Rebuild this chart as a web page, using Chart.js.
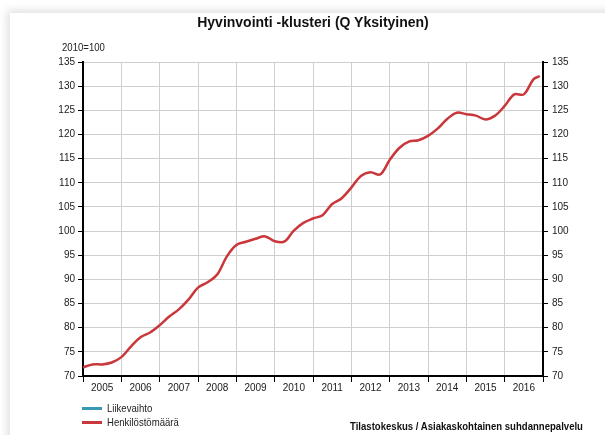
<!DOCTYPE html>
<html>
<head>
<meta charset="utf-8">
<script src="https://cdn.jsdelivr.net/npm/chart.js@4.4.1/dist/chart.umd.min.js"></script>
<style>
  html, body { margin: 0; padding: 0; background: #fff; }
  body { width: 605px; height: 435px; position: relative; overflow: hidden;
         font-family: "Liberation Sans", Arial, sans-serif; color: #222; }
  .card { position: absolute; left: 10px; top: 13px; width: 620px; height: 450px; background: #fff;
          box-shadow: -3px -3px 8px rgba(0,0,0,0.12); }
  canvas { position: absolute; left: 0; top: 0; }
  .narrow { transform: scaleX(0.87); transform-origin: 0 50%; white-space: nowrap; }
  .title { position: absolute; left: 0; width: 626px; top: 14px; text-align: center;
           font-weight: bold; font-size: 14px; color: #111; }
  .unit { position: absolute; left: 62px; top: 41px; font-size: 11px; }
  .legend { position: absolute; left: 82px; top: 401px; font-size: 11px; }
  .legend div { height: 14px; line-height: 14px; white-space: nowrap; }
  .legend span.swatch { display: inline-block; width: 20px; height: 3px; vertical-align: middle;
                        margin-right: 5px; position: relative; top: -1px; }
  .legend span.txt { display: inline-block; }
  .source { position: absolute; left: 350px; top: 420px; font-size: 11px; font-weight: bold; color: #111; }
</style>
</head>
<body>
<div class="card"></div>
<canvas id="chart" width="605" height="435"></canvas>
<div class="title">Hyvinvointi -klusteri (Q Yksityinen)</div>
<div class="unit narrow">2010=100</div>
<div class="legend" id="legend"></div>
<div class="source narrow">Tilastokeskus / Asiakaskohtainen suhdannepalvelu</div>
<script>
// periods (year-month) of the readings
const periods = [
  "2005-01", "2005-04", "2005-07", "2005-10",
  "2006-01", "2006-04", "2006-07", "2006-10",
  "2007-01", "2007-04", "2007-07", "2007-10",
  "2008-01", "2008-04", "2008-07", "2008-10",
  "2009-01", "2009-04", "2009-07", "2009-10",
  "2010-01", "2010-04", "2010-07", "2010-10",
  "2011-01", "2011-04", "2011-07", "2011-10",
  "2012-01", "2012-04", "2012-07", "2012-10",
  "2013-01", "2013-04", "2013-07", "2013-10",
  "2014-01", "2014-04", "2014-07", "2014-10",
  "2015-01", "2015-04", "2015-07", "2015-10",
  "2016-01", "2016-04", "2016-07", "2016-10", "2016-12"
];

// Henkilöstömäärä, trend index 2010=100
const henkilostomaara = [
  71.8, 72.4, 72.4, 72.8,
  73.9, 76.1, 78.0, 79.0,
  80.5, 82.3, 83.8, 85.8,
  88.3, 89.4, 91.0, 94.7,
  97.1, 97.8, 98.4, 98.9,
  97.9, 97.8, 100.1, 101.7,
  102.6, 103.3, 105.6, 106.8,
  109.0, 111.4, 112.2, 111.7,
  114.7, 117.2, 118.5, 118.8,
  119.7, 121.2, 123.2, 124.5,
  124.2, 123.9, 123.1, 123.9,
  125.9, 128.3, 128.3, 131.4, 132.1
];

// no values shown for Liikevaihto
const liikevaihto = [];

const years = ["2005", "2006", "2007", "2008", "2009", "2010", "2011", "2012", "2013", "2014", "2015", "2016"];
const yTicks = [70, 75, 80, 85, 90, 95, 100, 105, 110, 115, 120, 125, 130, 135];

const FONT = "'Liberation Sans', Arial, sans-serif";

function toYear(p) {
  const [y, m] = p.split("-").map(Number);
  return y + (m - 1) / 12;
}

const series = [
  { label: "Liikevaihto", color: "#3a98b4", values: liikevaihto },
  { label: "Henkilöstömäärä", color: "#c9373b", values: henkilostomaara },
];

const firstYear = Number(years[0]);
const lastYear = Number(years[years.length - 1]) + 1;

function yearTicks(scale) {
  const t = [];
  for (let y = firstYear; y <= lastYear; y++) {
    t.push({ value: y });
    if (y < lastYear) t.push({ value: y + 0.5 });
  }
  scale.ticks = t;
}

const isBoundary = (ctx) => ctx.tick && Number.isInteger(ctx.tick.value);

new Chart(document.getElementById("chart"), {
  type: "line",
  data: {
    datasets: series.map((s) => ({
      label: s.label,
      data: s.values.map((v, i) => ({ x: toYear(periods[i]), y: v })),
      borderColor: s.color,
      backgroundColor: s.color,
      borderWidth: 2.5,
      pointRadius: 0,
      tension: 0.35,
      fill: false,
    })),
  },
  options: {
    responsive: false,
    animation: false,
    layout: { padding: { top: 62, left: 0, right: 0, bottom: 0 } },
    plugins: {
      legend: { display: false },
      tooltip: { enabled: false },
    },
    scales: {
      x: {
        type: "linear",
        min: firstYear,
        max: lastYear,
        afterBuildTicks: yearTicks,
        afterFit: (s) => { s.height = 59; },
        border: { display: true, color: "#000", width: 2 },
        grid: {
          color: (ctx) => (isBoundary(ctx) ? "#cfcfcf" : "transparent"),
          tickColor: (ctx) => (isBoundary(ctx) ? "#000" : "transparent"),
          tickLength: 6,
          lineWidth: 1,
        },
        ticks: {
          autoSkip: false,
          maxRotation: 0,
          minRotation: 0,
          padding: 0,
          color: "#1a1a1a",
          font: { family: FONT, size: 10 },
          callback: (v) => (Number.isInteger(v) ? "" : String(Math.floor(v))),
        },
      },
      y: {
        position: "left",
        min: yTicks[0],
        max: yTicks[yTicks.length - 1],
        afterBuildTicks: (s) => { s.ticks = yTicks.map((v) => ({ value: v })); },
        afterFit: (s) => { s.width = 83; },
        border: { display: true, color: "#000", width: 2 },
        grid: { color: "#cfcfcf", tickColor: "#000", tickLength: 5, lineWidth: 1 },
        ticks: { padding: 3, color: "#1a1a1a", font: { family: FONT, size: 10 } },
      },
      y2: {
        position: "right",
        min: yTicks[0],
        max: yTicks[yTicks.length - 1],
        afterBuildTicks: (s) => { s.ticks = yTicks.map((v) => ({ value: v })); },
        afterFit: (s) => { s.width = 62; },
        border: { display: true, color: "#000", width: 2 },
        grid: { drawOnChartArea: false, tickColor: "#000", tickLength: 5 },
        ticks: { padding: 4, color: "#1a1a1a", font: { family: FONT, size: 10 } },
      },
    },
  },
});

document.getElementById("legend").innerHTML = series
  .map((s) => `<div><span class="swatch" style="background:${s.color}"></span><span class="txt narrow">${s.label}</span></div>`)
  .join("");
</script>
</body>
</html>
